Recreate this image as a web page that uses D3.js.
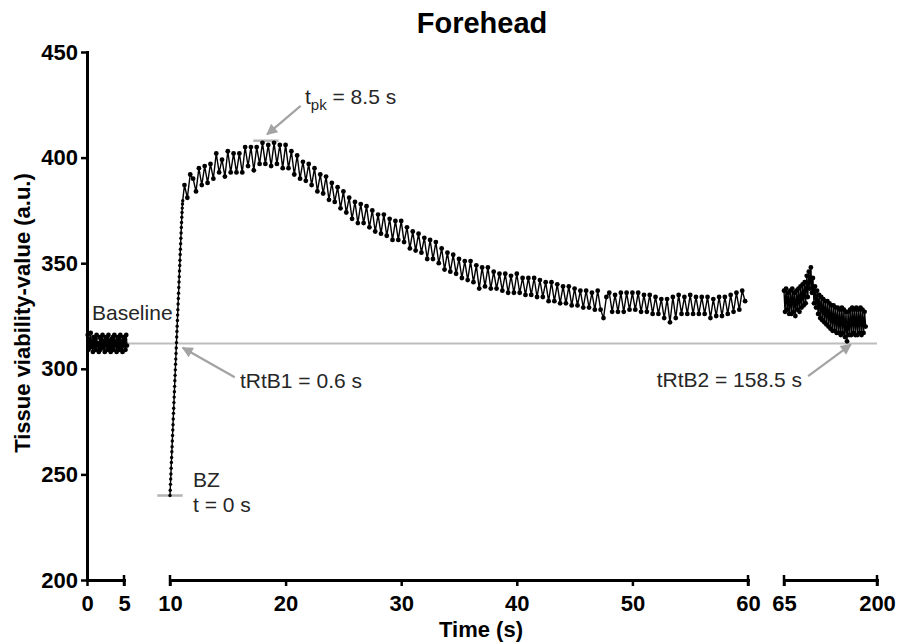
<!DOCTYPE html>
<html>
<head>
<meta charset="utf-8">
<script src="https://cdn.jsdelivr.net/npm/d3@7"></script>
<style>
  body { margin: 0; background: #fff; }
  svg { display: block; }
</style>
</head>
<body>
<div id="chart"></div>
<script>
// sampled signal, one array per recording piece (t = t0 + i * dt)
const baselineT0 = 0.1, baselineDt = 0.1;
const baselineValues = [
  316, 309, 314, 310, 317, 311, 313, 308, 315, 310, 314, 309, 316, 311, 312, 308, 315, 309,
  314, 310, 316, 310, 313, 308, 315, 311, 314, 309, 316, 310, 313, 308, 314, 310, 315, 309,
  316, 311, 313, 308, 315, 310, 314, 309, 316, 310, 313, 308, 315, 311, 314, 309, 316, 311
];

// steep rise after BZ
const riseT0 = 10, riseDt = 0.02;
const riseValues = [
  240.0, 242.5, 245.3, 247.8, 250.2, 252.9, 255.6, 258.0, 260.7, 263.1,
  265.8, 268.4, 271.0, 273.5, 276.2, 278.9, 281.3, 284.0, 286.6, 289.1,
  291.7, 294.4, 296.9, 299.5, 302.2, 304.6, 307.3, 309.9, 312.4, 315.1,
  317.7, 320.2, 322.9, 325.5, 328.0, 330.7, 333.3, 335.8, 338.5, 341.1,
  343.6, 346.3, 348.9, 351.4, 354.1, 356.6, 359.2, 361.8, 364.3, 366.9,
  369.3, 371.8, 374.0, 376.1, 378.0, 379.6
];

// peak and decay, 10-60 s piece
const decayT0 = 11.25, decayDt = 0.25;
const decayValues = [
  387, 381, 392,
  390, 384, 395, 387,  396, 388, 397, 390,  402, 393, 399, 391,  403, 393, 402, 393,
  402, 393, 405, 396,  405, 394, 405, 397,  407, 397, 406, 396,  407, 397, 406, 395,
  406, 395, 403, 392,  401, 390, 398, 389,  397, 387, 395, 384,  392, 383, 391, 380,
  388, 379, 386, 376,  384, 374, 381, 371,  379, 369, 378, 369,  377, 367, 375, 365,
  373, 364, 373, 363,  371, 361, 370, 361,  370, 360, 367, 357,  365, 356, 364, 355,
  362, 352, 361, 352,  360, 350, 357, 347,  355, 346, 354, 345,  352, 343, 351, 342,
  351, 341, 349, 338,  348, 339, 348, 338,  346, 338, 345, 337,  345, 336, 344, 336,
  345, 336, 343, 335,  343, 335, 343, 334,  342, 334, 341, 332,  341, 332, 340, 331,
  339, 331, 339, 330,  338, 330, 337, 329,  337, 329, 336, 328,  337, 328, 324, 334,
  336, 327, 335, 327,  336, 327, 336, 328,  336, 328, 336, 327,  335, 327, 335, 326,
  334, 326, 333, 324,  333, 322, 334, 324,  335, 326, 334, 326,  335, 326, 334, 326,
  334, 326, 334, 324,  333, 325, 334, 325,  334, 326, 335, 327,  336, 328, 337, 332
];

// late piece, 65-200 s
const lateT0 = 65, lateDt = 1.5;
const lateValues = [
  337, 327, 338, 328, 336, 326, 337,
  326, 338, 327, 336, 325, 337, 328,
  338, 327, 339, 329, 340, 330,
  341, 331, 344, 334,
  346, 338, 348,
  336, 343, 331, 339,
  329, 337, 326, 335, 324, 334, 323,
  333, 322, 332, 321, 332, 320, 331,
  319, 330, 318, 330, 318, 329,
  317, 329, 317, 328, 316, 329, 317,
  328, 315, 327, 313, 327, 316,
  328, 316, 329, 317, 328, 316, 329,
  316, 328, 317, 329, 316, 328, 317, 327, 320
];

const xTicksA = [0, 5];
const xTicksB = [10, 20, 30, 40, 50, 60];
const xTicksC = [65, 200];
const yTicks = [200, 250, 300, 350, 400, 450];

const baselineLevel = 312;
const bzLevel = 240;

const width = 897, height = 644;
const font = "'Liberation Sans', Arial, Helvetica, sans-serif";
const grey = "#a3a3a3";

const svg = d3.select("#chart")
  .append("svg")
  .attr("width", width)
  .attr("height", height);

// scales: y is shared, x is broken in three pieces
const y = d3.scaleLinear().domain([200, 450]).range([580, 52]);
const xA = d3.scaleLinear().domain([0, 5]).range([87, 124]);
const xB = d3.scaleLinear().domain([10, 60]).range([170, 748]);
const xC = d3.scaleLinear().domain([65, 200]).range([784, 877]);

const toPoints = (t0, dt, vals, r) => vals.map((v, i) => ({ t: t0 + i * dt, v, r }));
const pieces = [
  { x: xA, pts: toPoints(baselineT0, baselineDt, baselineValues, 2.4) },
  { x: xB, pts: toPoints(riseT0, riseDt, riseValues, 1.7).concat(toPoints(decayT0, decayDt, decayValues, 2.4)) },
  { x: xC, pts: toPoints(lateT0, lateDt, lateValues, 2.4) }
];

// arrow head
svg.append("defs").append("marker")
  .attr("id", "arrow")
  .attr("viewBox", "0 0 10 10")
  .attr("refX", 9).attr("refY", 5)
  .attr("markerUnits", "userSpaceOnUse")
  .attr("markerWidth", 13).attr("markerHeight", 11)
  .attr("orient", "auto")
  .append("path")
  .attr("d", "M0,0L10,5L0,10z")
  .attr("fill", grey);

// baseline reference line
svg.append("line")
  .attr("x1", xA(0)).attr("x2", xC(200))
  .attr("y1", y(baselineLevel)).attr("y2", y(baselineLevel))
  .attr("stroke", "#bdbdbd")
  .attr("stroke-width", 2);

// BZ level marker and peak marker
svg.append("line")
  .attr("x1", xB(8.9)).attr("x2", xB(11.1))
  .attr("y1", y(bzLevel)).attr("y2", y(bzLevel))
  .attr("stroke", "#b3b3b3").attr("stroke-width", 2.5);
svg.append("line")
  .attr("x1", xB(17.2)).attr("x2", xB(19.4))
  .attr("y1", y(408)).attr("y2", y(408))
  .attr("stroke", "#b3b3b3").attr("stroke-width", 2.5);

// data
pieces.forEach(p => {
  const line = d3.line().x(d => p.x(d.t)).y(d => y(d.v));
  svg.append("path")
    .datum(p.pts)
    .attr("d", line)
    .attr("fill", "none")
    .attr("stroke", "#000")
    .attr("stroke-width", 1.4);
  svg.append("g")
    .selectAll("circle")
    .data(p.pts)
    .enter()
    .append("circle")
    .attr("cx", d => p.x(d.t))
    .attr("cy", d => y(d.v))
    .attr("r", d => d.r)
    .attr("fill", "#000");
});

// axes
function styleAxis(g) {
  g.select(".domain").attr("stroke-width", 3).attr("stroke-linecap", "square");
  g.selectAll(".tick line").attr("stroke-width", 2.5);
  g.selectAll(".tick text")
    .attr("font-family", font)
    .attr("font-weight", "bold")
    .attr("font-size", "22px")
    .attr("fill", "#000");
}

svg.append("g")
  .attr("transform", `translate(${xA(0)},0)`)
  .call(d3.axisLeft(y).tickValues(yTicks).tickSize(6).tickSizeOuter(0).tickPadding(3))
  .call(styleAxis);

[[xA, xTicksA], [xB, xTicksB], [xC, xTicksC]].forEach(([sc, ticks]) => {
  const g = svg.append("g")
    .attr("transform", `translate(0,${y(200)})`)
    .call(d3.axisBottom(sc).tickValues(ticks).tickFormat(d3.format("d"))
      .tickSize(6).tickSizeOuter(0).tickPadding(9))
    .call(styleAxis);
  // end caps of each axis piece
  sc.domain().forEach(v => {
    if (sc === xA && v === 0) return;
    g.append("line")
      .attr("x1", sc(v)).attr("x2", sc(v))
      .attr("y1", -5).attr("y2", 6)
      .attr("stroke", "#000").attr("stroke-width", 2.5);
  });
});

// axis titles and chart title
svg.append("text")
  .attr("x", 482).attr("y", 33)
  .attr("text-anchor", "middle")
  .attr("font-family", font).attr("font-weight", "bold").attr("font-size", "29px")
  .text("Forehead");

svg.append("text")
  .attr("x", 481).attr("y", 637)
  .attr("text-anchor", "middle")
  .attr("font-family", font).attr("font-weight", "bold").attr("font-size", "22px")
  .text("Time (s)");

svg.append("text")
  .attr("transform", "translate(30,313) rotate(-90)")
  .attr("text-anchor", "middle")
  .attr("font-family", font).attr("font-weight", "bold").attr("font-size", "22px")
  .text("Tissue viability-value (a.u.)");

// annotations
const notes = svg.append("g")
  .attr("font-family", font)
  .attr("font-size", "21px")
  .attr("fill", "#262626");

notes.append("text").attr("x", 92).attr("y", 320).text("Baseline");
notes.append("text").attr("x", 193).attr("y", 487).text("BZ");
notes.append("text").attr("x", 193).attr("y", 512).text("t = 0 s");
notes.append("text").attr("x", 240).attr("y", 388).text("tRtB1 = 0.6 s");
notes.append("text").attr("x", 802).attr("y", 387).attr("text-anchor", "end").text("tRtB2 = 158.5 s");

const tpk = notes.append("text").attr("x", 305).attr("y", 104);
tpk.append("tspan").text("t");
tpk.append("tspan").attr("font-size", "15px").attr("dy", 6).text("pk");
tpk.append("tspan").attr("dy", -6).text(" = 8.5 s");

const arrows = [
  { x: xB, from: [15.6, 296], to: [11.1, 310] },
  { x: xB, from: [21.3, 424.5], to: [18.4, 411] },
  { x: xC, from: [100, 296.5], to: [162, 311.5] }
];
arrows.forEach(a => {
  svg.append("line")
    .attr("x1", a.x(a.from[0])).attr("y1", y(a.from[1]))
    .attr("x2", a.x(a.to[0])).attr("y2", y(a.to[1]))
    .attr("stroke", grey)
    .attr("stroke-width", 2.2)
    .attr("marker-end", "url(#arrow)");
});
</script>
</body>
</html>
